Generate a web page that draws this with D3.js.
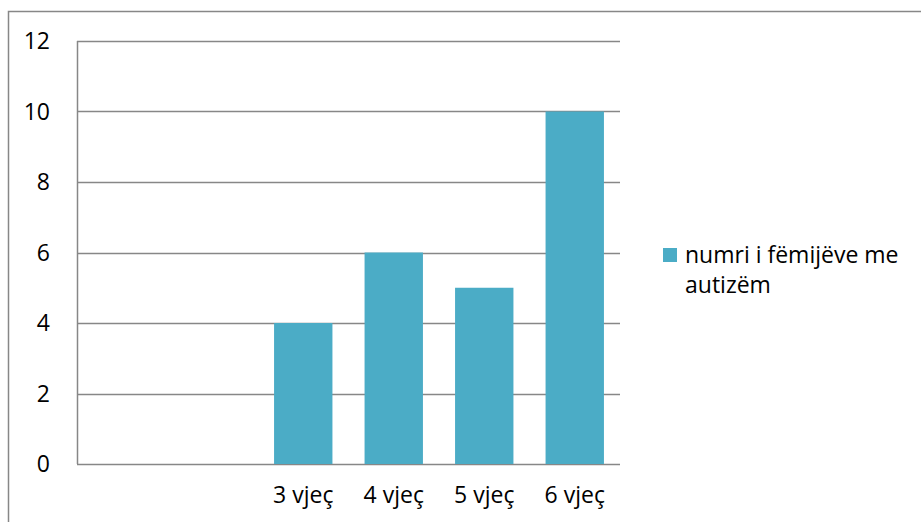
<!DOCTYPE html>
<html>
<head>
<meta charset="utf-8">
<script src="https://cdn.jsdelivr.net/npm/d3@7"></script>
<style>
  body { margin: 0; background: #fff; }
  svg { display: block; }
</style>
</head>
<body>
<svg width="921" height="522"></svg>
<script>
var categories = ["", "", "3 vjeç", "4 vjeç", "5 vjeç", "6 vjeç"];
var values = [null, null, 4, 6, 5, 10];
var yTicks = [0, 2, 4, 6, 8, 10, 12];
var seriesName = ["numri i fëmijëve me", "autizëm"];

var svg = d3.select("svg"),
    margin = {top: 41, right: 301, bottom: 58, left: 77},
    width = 921 - margin.left - margin.right,
    height = 522 - margin.top - margin.bottom;

var font = "'Open Sans', sans-serif";

// outer chart frame, cut off at right and bottom
svg.append("rect")
  .attr("x", 8.5).attr("y", 11.5)
  .attr("width", 940).attr("height", 540)
  .attr("fill", "none")
  .attr("stroke", "#878787")
  .attr("stroke-width", 1.5);

var x = d3.scaleBand().domain(d3.range(categories.length)).range([0, width])
  .paddingInner(0.355).paddingOuter(0.1775);
var y = d3.scaleLinear().domain([0, 12]).range([height, 0]);

var g = svg.append("g")
  .attr("transform", "translate(" + margin.left + "," + margin.top + ")");

// gridlines
g.selectAll(".grid")
  .data(yTicks)
  .enter().append("line")
  .attr("x1", 0).attr("x2", width)
  .attr("y1", function(d) { return Math.round(y(d)) + 0.5; })
  .attr("y2", function(d) { return Math.round(y(d)) + 0.5; })
  .attr("stroke", "#878787")
  .attr("stroke-width", 1.5);

// y axis line
g.append("line")
  .attr("x1", 0.5).attr("x2", 0.5)
  .attr("y1", 0).attr("y2", height)
  .attr("stroke", "#878787")
  .attr("stroke-width", 1.5);

// bars
g.selectAll(".bar")
  .data(values.map(function(v, i) { return {i: i, v: v}; }).filter(function(d) { return d.v != null; }))
  .enter().append("rect")
  .attr("class", "bar")
  .attr("x", function(d) { return x(d.i); })
  .attr("width", x.bandwidth())
  .attr("y", function(d) { return y(d.v); })
  .attr("height", function(d) { return height - y(d.v); })
  .attr("fill", "#4BACC6");

// y tick labels
g.selectAll(".ylab")
  .data(yTicks)
  .enter().append("text")
  .attr("x", -27)
  .attr("y", function(d) { return y(d); })
  .attr("dy", "0.35em")
  .attr("text-anchor", "end")
  .style("font", "23px " + font)
  .attr("fill", "#000")
  .text(function(d) { return d; });

// x labels
g.selectAll(".xlab")
  .data(categories)
  .enter().append("text")
  .attr("x", function(d, i) { return x(i) + x.bandwidth() / 2; })
  .attr("y", height + 39)
  .attr("text-anchor", "middle")
  .style("font", "23px " + font)
  .attr("fill", "#000")
  .text(function(d) { return d; });

// legend
var lg = svg.append("g").attr("transform", "translate(663,248)");
lg.append("rect")
  .attr("width", 14).attr("height", 14)
  .attr("fill", "#4BACC6");
lg.selectAll("text")
  .data(seriesName)
  .enter().append("text")
  .attr("x", 22)
  .attr("y", function(d, i) { return 15 + i * 30; })
  .style("font", "23px " + font)
  .attr("fill", "#000")
  .text(function(d) { return d; });
</script>
</body>
</html>
